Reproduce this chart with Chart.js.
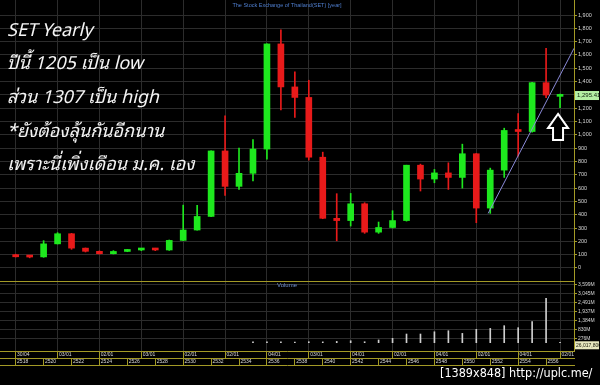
<!DOCTYPE html>
<html><head><meta charset="utf-8">
<script src="https://cdn.jsdelivr.net/npm/chart.js@4.4.1/dist/chart.umd.min.js"></script>
<style>
html,body{margin:0;padding:0;background:#000;}
#wrap{position:relative;width:600px;height:385px;overflow:hidden;background:#000;}
canvas{position:absolute;left:0;top:0;}
.note{position:absolute;left:7px;color:#f4f4f4;font-style:italic;font-size:18px;line-height:22px;white-space:nowrap;
 font-family:"Noto Sans Thai Looped","Noto Sans Thai","Tahoma","Loma","Garuda","DejaVu Sans",sans-serif;}
.wm{position:absolute;left:440px;top:365px;color:#fff;font-size:12.5px;line-height:16px;white-space:nowrap;
 font-family:"Liberation Sans Narrow","DejaVu Sans Condensed","DejaVu Sans",sans-serif;}
</style></head>
<body><div id="wrap">
<canvas id="c" width="600" height="385"></canvas>
<div class="note" style="top:17px">SET Yearly</div>
<div class="note" style="top:50px">ปีนี้ 1205 เป็น low</div>
<div class="note" style="top:84px">ส่วน 1307 เป็น high</div>
<div class="note" style="top:118px">*ยังต้องลุ้นกันอีกนาน</div>
<div class="note" style="top:151px">เพราะนี่เพิ่งเดือน ม.ค. เอง</div>
<div class="wm">[1389x848] http://uplc.me/</div>
</div>
<script>
// ---- data ----
const years = [2518,2519,2520,2521,2522,2523,2524,2525,2526,2527,2528,2529,2530,2531,2532,2533,2534,2535,2536,2537,2538,2539,2540,2541,2542,2543,2544,2545,2546,2547,2548,2549,2550,2551,2552,2553,2554,2555,2556,2557];
const open  = [100,84,83,181,257,149,125,107,124,135,142,135,207,285,387,879,613,711,893,1683,1360,1281,832,373,356,482,269,304,356,772,668,714,680,858,450,735,1033,1025,1392,1289];
const high  = [103,86,205,265,260,150,128,130,140,146,148,210,472,470,880,1143,900,964,1683,1789,1473,1410,870,558,560,490,345,430,772,780,740,790,930,860,750,1050,1160,1395,1650,1307];
const low   = [82,76,80,180,140,120,104,105,122,130,130,132,205,283,385,544,590,654,818,1187,1130,810,370,204,315,260,260,300,352,578,640,590,600,340,410,680,840,1020,1280,1205];
const close = [84,82,181,257,149,125,107,124,135,142,135,207,285,387,879,613,711,893,1683,1360,1281,832,373,356,482,269,304,356,772,668,714,680,858,450,735,1033,1025,1392,1299,1295.41];
const volume = [null,null,null,null,null,null,null,null,null,null,null,null,null,null,null,null,null,55,60,50,45,60,50,80,120,60,170,270,540,540,680,745,580,830,890,1060,935,1310,2760,26.0178]; // millions
const topIdx    = [0,3,6,9,12,15,18,21,24,27,30,33,36,39];
const topLabels = ["30/04","03/01","02/01","03/01","02/01","02/01","04/01","03/01","04/01","02/01","04/01","02/01","04/01","02/01"];
const yearIdx   = [0,2,4,6,8,10,12,14,16,18,20,22,24,26,28,30,32,34,36,38];
const priceTicks = [0,100,200,300,400,500,600,700,800,900,1000,1100,1200,1300,1400,1500,1600,1700,1800,1900];
const volTicks = [276,830,1384,1937,2491,3045,3599];
const trendX = [33.85, 40];
const trendY = [410, 1650];

// ---- style ----
const GREEN='#1ee81e', RED='#e81a1a', GRID='#2c2c2c', YEL='#a39a26', LBL='#d8d8d8';
const xMin=-1.125, xMax=40, pMin=-98, pMax=2013, vMin=-517, vMax=3842;
const candleColor = c => { const i=c.dataIndex; return close[i]>=open[i]?GREEN:RED; };
const fmt = v => v.toLocaleString('en-US');

const deco = {
  id:'deco',
  afterDraw(ch){
    const g=ch.ctx, xs=ch.scales.x, ys=ch.scales.y, vs=ch.scales.y2, ca=ch.chartArea;
    g.save();
    // panel separator
    g.strokeStyle=YEL; g.lineWidth=1;
    g.beginPath(); g.moveTo(ca.left, Math.round(vs.top)+0.5); g.lineTo(ca.right, Math.round(vs.top)+0.5); g.stroke();
    g.textAlign='center'; g.textBaseline='middle';
    g.font='5.5px "Liberation Sans", Arial, sans-serif';
    g.fillStyle='#4f7fd0';
    g.fillText('The Stock Exchange of Thailand(SET) [year]', (ca.left+ca.right)/2, 5);
    g.font='6px "Liberation Sans", Arial, sans-serif';
    g.fillStyle='#6f8fd0';
    g.fillText('Volume', (ca.left+ca.right)/2, vs.top+4.5);
    // last close label
    const last=close.length-1;
    let py=ys.getPixelForValue(close[last]);
    g.fillStyle='#b4f0a4'; g.fillRect(ca.right+1, py-4.5, 24, 9);
    g.fillStyle='#102010'; g.textAlign='left';
    g.font='6px "Liberation Sans", Arial, sans-serif';
    g.fillText(close[last].toFixed(2).replace(/\B(?=(\d{3})+(?!\d))/g,','), ca.right+3, py);
    // last volume label
    let vy=vs.getPixelForValue(volume[last])+3;
    g.fillStyle='#e8e8c0'; g.fillRect(ca.right+1, vy-4, 24, 8);
    g.fillStyle='#202010';
    g.font='5px "Liberation Sans", Arial, sans-serif';
    g.fillText(fmt(Math.round(volume[last]*1e6)), ca.right+2, vy);
    // arrow pointing at last candle
    const cx=xs.getPixelForValue(last)-2;
    const tip=ys.getPixelForValue(1157), base=ys.getPixelForValue(1051), bot=ys.getPixelForValue(961);
    g.beginPath();
    g.moveTo(cx,tip); g.lineTo(cx+10,base); g.lineTo(cx+5,base); g.lineTo(cx+5,bot);
    g.lineTo(cx-5,bot); g.lineTo(cx-5,base); g.lineTo(cx-10,base); g.closePath();
    g.fillStyle='#000'; g.fill();
    g.lineWidth=2; g.strokeStyle='#fff'; g.lineJoin='miter'; g.stroke();
    g.restore();
  }
};

const zeroPad = s => { s.paddingTop=0; s.paddingBottom=0; s.paddingLeft=0; s.paddingRight=0; };

new Chart(document.getElementById('c'), {
  type:'bar',
  data:{datasets:[
    {type:'line', data: trendX.map((x,i)=>({x, y:trendY[i]})), borderColor:'#8a8ad8', borderWidth:1, pointRadius:0, yAxisID:'y', xAxisID:'x', order:-1},
    {data: years.map((_,i)=>({x:i, y:[open[i], close[i]]})), backgroundColor:candleColor, barThickness:6, minBarLength:2, grouped:false, yAxisID:'y', xAxisID:'x', order:0, borderWidth:0},
    {data: years.map((_,i)=>({x:i, y:[low[i], high[i]]})), backgroundColor:candleColor, barThickness:1, grouped:false, yAxisID:'y', xAxisID:'x', order:1, borderWidth:0},
    {data: years.map((_,i)=>({x:i, y:volume[i]})), backgroundColor:'#cfcfcf', barThickness:1, grouped:false, yAxisID:'y2', xAxisID:'x', order:2, borderWidth:0}
  ]},
  options:{
    responsive:false, animation:false, devicePixelRatio:1,
    layout:{padding:{left:0,top:0,right:0,bottom:19}},
    plugins:{legend:{display:false}, tooltip:{enabled:false}, title:{display:false}},
    scales:{
      x:{type:'linear', position:'bottom', weight:0, min:xMin, max:xMax, offset:false,
        afterBuildTicks:s=>{s.ticks=topIdx.map(v=>({value:v}));},
        afterFit:s=>{s.height=7; zeroPad(s);},
        ticks:{autoSkip:false, maxRotation:0, minRotation:0, align:'start', padding:-6.5, color:LBL,
          font:{size:5, family:'"Liberation Sans", Arial, sans-serif'},
          callback:v=>{const k=topIdx.indexOf(v); return k<0?'':' '+topLabels[k];}},
        grid:{offset:false, color:GRID, tickColor:YEL, tickLength:7, drawOnChartArea:true},
        border:{color:YEL}},
      x2:{type:'linear', position:'bottom', weight:1, min:xMin, max:xMax, offset:false,
        afterBuildTicks:s=>{s.ticks=yearIdx.map(v=>({value:v}));},
        afterFit:s=>{s.height=7; zeroPad(s);},
        ticks:{autoSkip:false, maxRotation:0, minRotation:0, align:'start', padding:-6.5, color:LBL,
          font:{size:5, family:'"Liberation Sans", Arial, sans-serif'},
          callback:v=>' '+years[v]},
        grid:{offset:false, tickColor:YEL, tickLength:7, drawOnChartArea:false},
        border:{color:YEL}},
      x3:{type:'linear', position:'bottom', weight:2, min:xMin, max:xMax, offset:false,
        afterFit:s=>{s.height=1; zeroPad(s);},
        ticks:{display:false}, grid:{display:false, drawTicks:false}, border:{color:YEL}},
      y:{type:'linear', position:'right', stack:'r', stackWeight:281, min:pMin, max:pMax,
        afterBuildTicks:s=>{s.ticks=priceTicks.map(v=>({value:v}));},
        afterFit:s=>{s.width=26; zeroPad(s);},
        ticks:{autoSkip:false, color:LBL, padding:1, font:{size:5.5, family:'"Liberation Sans", Arial, sans-serif'}, callback:v=>fmt(v)},
        grid:{color:GRID, tickColor:YEL, tickLength:3},
        border:{color:YEL}},
      y2:{type:'linear', position:'right', stack:'r', stackWeight:70, min:vMin, max:vMax,
        afterBuildTicks:s=>{s.ticks=volTicks.map(v=>({value:v}));},
        afterFit:s=>{s.width=26; zeroPad(s);},
        ticks:{autoSkip:false, color:LBL, padding:1, font:{size:5, family:'"Liberation Sans", Arial, sans-serif'}, callback:v=>fmt(v)+'M'},
        grid:{color:GRID, tickColor:YEL, tickLength:3},
        border:{color:YEL}}
    }
  },
  plugins:[deco]
});
</script>
</body></html>
